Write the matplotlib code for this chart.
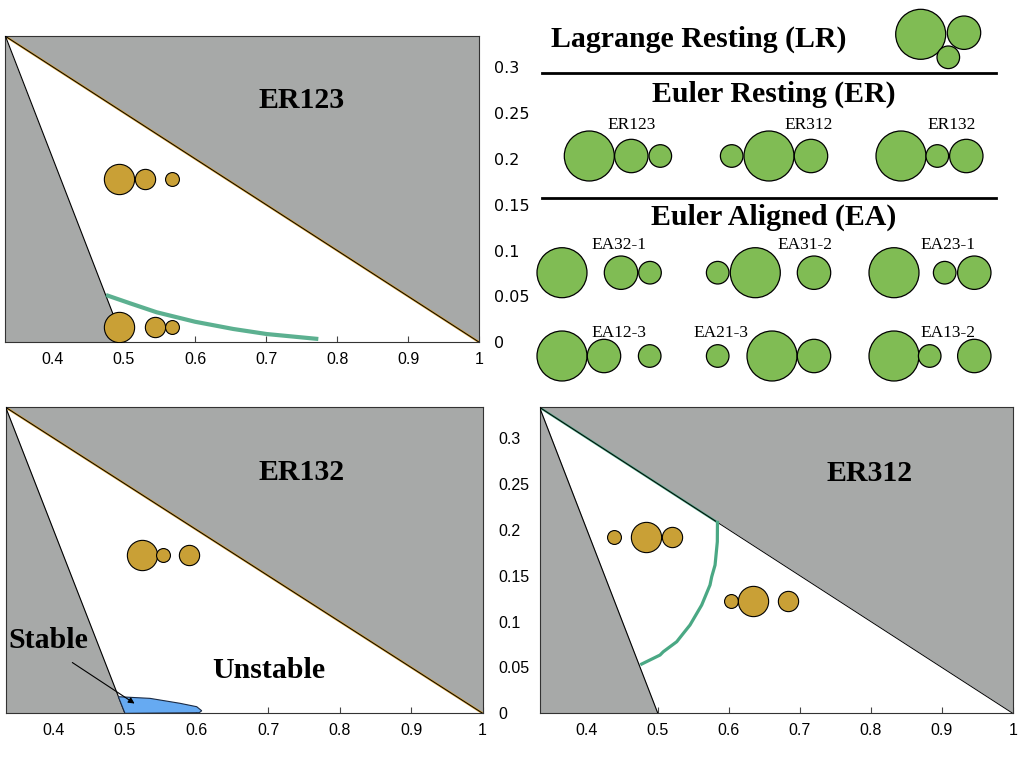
import matplotlib
matplotlib.use('Agg')
import matplotlib.pyplot as plt
from matplotlib.patches import Polygon, Circle

# colours
GRAY = '#a7a9a8'
BROWN = '#c9a036'
GREEN = '#80bc54'
TEAL = '#4aa884'
BLUE = '#66aaf2'
SERIF = 'Liberation Serif'
SANS = 'Liberation Sans'

# allowed region (triangle corners)
tri_x = [1/3, 0.5, 1.0]
tri_y = [1/3, 0.0, 0.0]

xticks = [0.4, 0.5, 0.6, 0.7, 0.8, 0.9, 1.0]
xtick_labels = ['0.4', '0.5', '0.6', '0.7', '0.8', '0.9', '1']
yticks = [0, 0.05, 0.1, 0.15, 0.2, 0.25, 0.3]
ytick_labels = ['0', '0.05', '0.1', '0.15', '0.2', '0.25', '0.3']

# ER123 stability boundary
er123_x = [0.4747, 0.5085, 0.5461, 0.6000, 0.6539, 0.7009, 0.7735]
er123_y = [0.0515, 0.0425, 0.0327, 0.0224, 0.0145, 0.0090, 0.0036]

# ER312 stability boundary
er312_x = [0.5840, 0.5838, 0.5806, 0.5759, 0.5735, 0.5618, 0.5453,
           0.5359, 0.5266, 0.5077, 0.5031, 0.4773]
er312_y = [0.2080, 0.1869, 0.1615, 0.1488, 0.1398, 0.1180, 0.0962,
           0.0871, 0.0780, 0.0671, 0.0635, 0.0537]

# ER132 stable island
er132_x = [0.4907, 0.5350, 0.5770, 0.6003, 0.6073, 0.6039, 0.5000]
er132_y = [0.0181, 0.0163, 0.0109, 0.0072, 0.0028, 0.0007, 0.0000]

# example configurations shown in each panel (x, y, size class)
er123_bodies_x = [0.4933, 0.5290, 0.5681, 0.4935, 0.5437, 0.5676]
er123_bodies_y = [0.1778, 0.1778, 0.1778, 0.0163, 0.0163, 0.0163]
er123_bodies_s = ['L', 'M', 'S', 'L', 'M', 'S']

er132_bodies_x = [0.5241, 0.5538, 0.5901]
er132_bodies_y = [0.1724, 0.1724, 0.1724]
er132_bodies_s = ['L', 'S', 'M']

er312_bodies_x = [0.4378, 0.4838, 0.5201, 0.6024, 0.6339, 0.6838]
er312_bodies_y = [0.1925, 0.1925, 0.1925, 0.1227, 0.1227, 0.1227]
er312_bodies_s = ['S', 'L', 'M', 'S', 'L', 'M']

marker_size = {'L': 21.8, 'M': 14.6, 'S': 10.0}
radius = {'L': 25.0, 'M': 16.7, 'S': 11.3}

# schematic (top right), in pixel-like units
lr_x = [920.7, 964.0, 948.3]
lr_y = [34.3, 32.7, 57.3]
lr_s = ['L', 'M', 'S']

er_names = ['ER123', 'ER312', 'ER132']
er_label_x = [632, 809, 952]
er_bodies_x = [[589.3, 631.3, 660.3], [731.7, 769.0, 811.0], [901.0, 937.3, 966.3]]
er_bodies_s = [['L', 'M', 'S'], ['S', 'L', 'M'], ['L', 'S', 'M']]

ea_names = ['EA32-1', 'EA31-2', 'EA23-1', 'EA12-3', 'EA21-3', 'EA13-2']
ea_label_x = [619, 805.3, 948.3, 619, 721, 948.3]
ea_row = [0, 0, 0, 1, 1, 1]
ea_bodies_x = [[562, 621, 650], [717.7, 755.3, 814], [894, 944.7, 974.3],
               [562, 604, 649.7], [717.7, 772, 814], [894, 929.7, 974.3]]
ea_bodies_s = [['L', 'M', 'S'], ['S', 'L', 'M'], ['L', 'S', 'M'],
               ['L', 'M', 'S'], ['S', 'L', 'M'], ['L', 'S', 'M']]


def panel(rect, label, label_xy, yside):
    ax = fig.add_axes(rect)
    ax.set_xlim(1/3, 1)
    ax.set_ylim(0, 1/3)
    ax.set_facecolor('white')
    ax.set_axisbelow(True)
    x0, x1 = ax.get_xlim()
    y0, y1 = ax.get_ylim()
    # gray forbidden regions
    ax.add_patch(Polygon([(tri_x[0], tri_y[0]), (x0, y0), (tri_x[1], tri_y[1])],
                         closed=True, fc=GRAY, ec='none', zorder=1))
    ax.add_patch(Polygon([(tri_x[0], tri_y[0]), (x1, y1), (tri_x[2], tri_y[2])],
                         closed=True, fc=GRAY, ec='none', zorder=1))
    ax.plot(tri_x[:2], tri_y[:2], color='black', lw=0.8, zorder=3)
    ax.plot([tri_x[0], tri_x[2]], [tri_y[0], tri_y[2]], color='black', lw=0.7, zorder=3)
    ax.text(label_xy[0], label_xy[1], label, fontfamily=SERIF, fontweight='bold',
            fontsize=21.5, ha='left', va='baseline', zorder=5)
    ax.set_xticks(xticks)
    ax.set_xticklabels(xtick_labels)
    ax.set_yticks(yticks)
    ax.set_yticklabels(ytick_labels)
    ax.tick_params(axis='x', direction='in', length=4.5, width=0.8, color='#444444',
                   pad=7, labelsize=11.5)
    for t in ax.get_xticklabels() + ax.get_yticklabels():
        t.set_fontfamily(SANS)
    if yside == 'right':
        ax.yaxis.tick_right()
        ax.tick_params(axis='y', length=0, pad=10.8, labelsize=11.5)
    elif yside == 'left':
        ax.tick_params(axis='y', length=0, pad=29.7, labelsize=11.5)
        for t in ax.get_yticklabels():
            t.set_ha('left')
    else:
        ax.tick_params(axis='y', length=0, labelleft=False)
    for sp in ax.spines.values():
        sp.set_linewidth(0.8)
        sp.set_color('#333333')
    return ax


def bodies(ax, xs, ys, ss):
    for x, y, s in zip(xs, ys, ss):
        ax.plot(x, y, 'o', ms=marker_size[s], mfc=BROWN, mec='black', mew=0.8, zorder=4)


fig = plt.figure(figsize=(10.24, 7.68), dpi=100)

# ER123
ax1 = panel([0.00537, 0.5543, 0.4627, 0.3984], 'ER123', (0.6895, 0.2555), 'right')
ax1.plot([tri_x[0], tri_x[2]], [tri_y[0], tri_y[2]], color='#d9a030', lw=1.6, zorder=2)
ax1.plot(er123_x, er123_y, color=TEAL, lw=3, alpha=0.9, solid_capstyle='butt', zorder=3)
bodies(ax1, er123_bodies_x, er123_bodies_y, er123_bodies_s)

# ER132
ax2 = panel([0.00557, 0.0712, 0.4658, 0.3984], 'ER132', (0.6868, 0.2542), 'none')
ax2.plot([tri_x[0], tri_x[2]], [tri_y[0], tri_y[2]], color='#d9a030', lw=1.6, zorder=2)
ax2.fill(er132_x, er132_y, fc=BLUE, ec='#1a2a44', lw=0.8, zorder=3)
bodies(ax2, er132_bodies_x, er132_bodies_y, er132_bodies_s)
ax2.text(0.337, 0.0708, 'Stable', fontfamily=SERIF, fontweight='bold', fontsize=21.5,
         ha='left', va='baseline', zorder=5)
ax2.text(0.6222, 0.0381, 'Unstable', fontfamily=SERIF, fontweight='bold', fontsize=21.5,
         ha='left', va='baseline', zorder=5)
ax2.annotate('', xy=(0.5167, 0.0090), xytext=(0.4232, 0.0570),
             arrowprops=dict(arrowstyle='-|>', lw=0.8, color='black', mutation_scale=9),
             zorder=6)

# ER312
ax3 = panel([0.5269, 0.0712, 0.4621, 0.3984], 'ER312', (0.738, 0.2534), 'left')
ax3.plot([tri_x[0], er312_x[0]], [tri_y[0], er312_y[0]], color=TEAL, lw=1.6, zorder=2)
ax3.plot(er312_x, er312_y, color=TEAL, lw=2.3, solid_joinstyle='round', zorder=3)
bodies(ax3, er312_bodies_x, er312_bodies_y, er312_bodies_s)

# schematic of the configurations
ax4 = fig.add_axes([530/1024, 1 - 390/768, 494/1024, 390/768])
ax4.set_xlim(530, 1024)
ax4.set_ylim(390, 0)
ax4.axis('off')


def diagram(xs, ys, ss):
    for x, y, s in zip(xs, ys, ss):
        ax4.add_patch(Circle((x, y), radius[s], fc=GREEN, ec='black', lw=0.9))


ax4.text(551, 46.7, 'Lagrange Resting (LR)', fontfamily=SERIF, fontweight='bold',
         fontsize=21.5, ha='left', va='baseline')
diagram(lr_x, lr_y, lr_s)
ax4.plot([541.7, 995.7], [73, 73], color='black', lw=2)

ax4.text(774, 101.7, 'Euler Resting (ER)', fontfamily=SERIF, fontweight='bold',
         fontsize=21.5, ha='center', va='baseline')
for name, lx, bx, bs in zip(er_names, er_label_x, er_bodies_x, er_bodies_s):
    ax4.text(lx, 129, name, fontfamily=SERIF, fontsize=12.5, ha='center', va='baseline')
    diagram(bx, [156] * 3, bs)
ax4.plot([541.7, 995.7], [197.7, 197.7], color='black', lw=2)

ax4.text(773.7, 224.3, 'Euler Aligned (EA)', fontfamily=SERIF, fontweight='bold',
         fontsize=21.5, ha='center', va='baseline')
row_label_y = [249, 337.3]
row_body_y = [272.7, 356]
for name, lx, r, bx, bs in zip(ea_names, ea_label_x, ea_row, ea_bodies_x, ea_bodies_s):
    ax4.text(lx, row_label_y[r], name, fontfamily=SERIF, fontsize=12.5, ha='center',
             va='baseline', zorder=5)
    diagram(bx, [row_body_y[r]] * 3, bs)

fig.savefig('out.png', dpi=100)
